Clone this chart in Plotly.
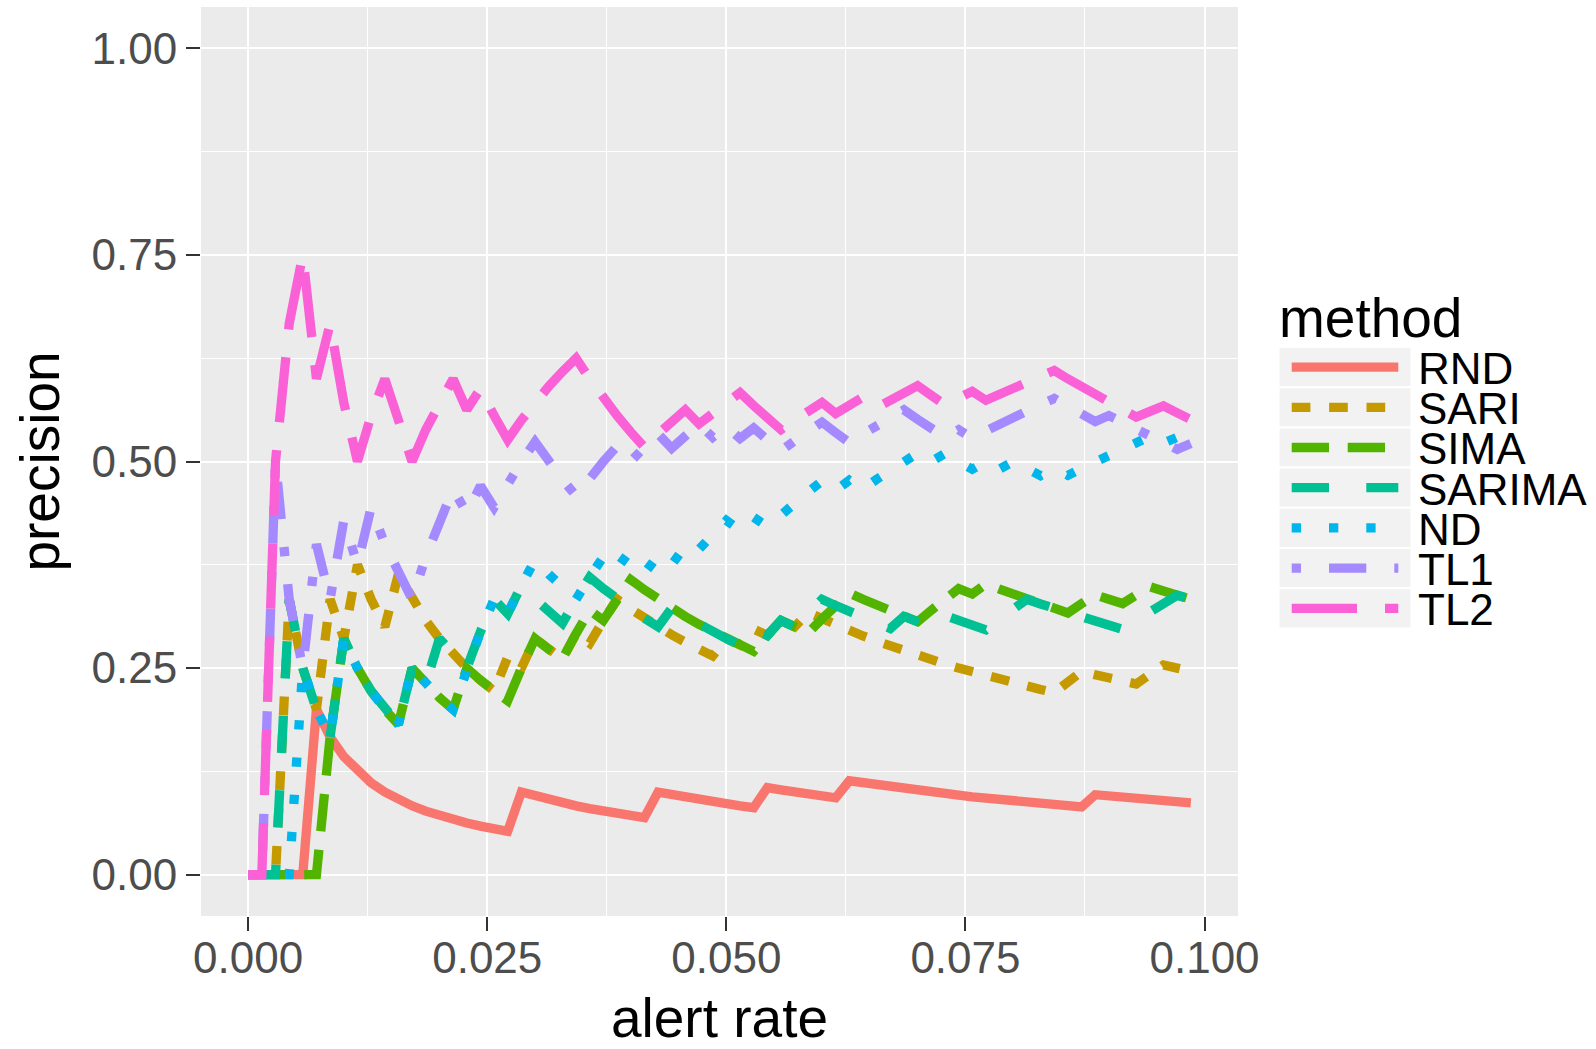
import plotly.graph_objects as go

# ---------------- data ----------------
alert_rate = [0, 0.00143, 0.00286, 0.00429, 0.00571, 0.00714, 0.00857, 0.01, 0.01143, 0.01286,
              0.01429, 0.01571, 0.01714, 0.01857, 0.02, 0.02143, 0.02286, 0.02429, 0.02571, 0.02714,
              0.02857, 0.03, 0.03143, 0.03286, 0.03429, 0.03571, 0.03714, 0.03857, 0.04, 0.04143,
              0.04286, 0.04429, 0.04571, 0.04714, 0.04857, 0.05, 0.05143, 0.05286, 0.05429, 0.05571,
              0.05714, 0.05857, 0.06, 0.06143, 0.06286, 0.06429, 0.06571, 0.06714, 0.06857, 0.07,
              0.07143, 0.07286, 0.07429, 0.07571, 0.07714, 0.07857, 0.08, 0.08143, 0.08286, 0.08429,
              0.08571, 0.08714, 0.08857, 0.09, 0.09143, 0.09286, 0.09429, 0.09571, 0.09714, 0.09857]

rnd = [0, 0, 0, 0, 0, 0.2, 0.1667, 0.1429, 0.125, 0.1111, 0.1, 0.0909, 0.0833, 0.0769, 0.0714,
       0.0667, 0.0625, 0.0588, 0.0556, 0.0526, 0.1, 0.0952, 0.0909, 0.087, 0.0833, 0.08, 0.0769,
       0.0741, 0.0714, 0.069, 0.1, 0.0968, 0.0938, 0.0909, 0.0882, 0.0857, 0.0833, 0.0811, 0.1053,
       0.1026, 0.1, 0.0976, 0.0952, 0.093, 0.1136, 0.1111, 0.1087, 0.1064, 0.1042, 0.102, 0.1,
       0.098, 0.0962, 0.0943, 0.0926, 0.0909, 0.0893, 0.0877, 0.0862, 0.0847, 0.0833, 0.082,
       0.0968, 0.0952, 0.0938, 0.0923, 0.0909, 0.0896, 0.0882, 0.087]

sari = [0, 0, 0, 0.3333, 0.25, 0.2, 0.3333, 0.2857, 0.375, 0.3333, 0.3, 0.3636, 0.3333, 0.3077,
        0.2857, 0.2667, 0.25, 0.2353, 0.2222, 0.2632, 0.25, 0.2857, 0.2727, 0.2609, 0.2917, 0.28,
        0.3077, 0.3333, 0.3214, 0.3103, 0.3, 0.2903, 0.2813, 0.2727, 0.2647, 0.2857, 0.2778, 0.2973,
        0.2895, 0.3077, 0.3, 0.3171, 0.3095, 0.3023, 0.2955, 0.2889, 0.2826, 0.2766, 0.2708, 0.2653,
        0.26, 0.2549, 0.25, 0.2453, 0.2407, 0.2364, 0.2321, 0.2281, 0.2241, 0.2203, 0.2333, 0.2459,
        0.2419, 0.2381, 0.2344, 0.2308, 0.2424, 0.2537, 0.25, 0.2464]

sima = [0, 0, 0, 0, 0, 0, 0.1667, 0.2857, 0.25, 0.2222, 0.2, 0.1818, 0.25, 0.2308, 0.2143, 0.2,
        0.25, 0.2353, 0.2222, 0.2105, 0.25, 0.2857, 0.2727, 0.2609, 0.2917, 0.32, 0.3077, 0.3333,
        0.3571, 0.3448, 0.3333, 0.3226, 0.3125, 0.303, 0.2941, 0.2857, 0.2778, 0.2703, 0.2895,
        0.3077, 0.3, 0.2927, 0.3095, 0.3256, 0.3409, 0.3333, 0.3261, 0.3191, 0.3125, 0.3061, 0.32,
        0.3333, 0.3462, 0.3396, 0.3519, 0.3455, 0.3393, 0.3333, 0.3276, 0.322, 0.3167, 0.3279,
        0.3387, 0.3333, 0.3281, 0.3385, 0.3485, 0.3433, 0.3382, 0.3333]

sarima = [0, 0, 0, 0.3333, 0.25, 0.2, 0.1667, 0.2857, 0.25, 0.2222, 0.2, 0.1818, 0.25, 0.2308,
          0.2857, 0.2667, 0.25, 0.2941, 0.3333, 0.3158, 0.35, 0.3333, 0.3182, 0.3043, 0.3333, 0.36,
          0.3462, 0.3333, 0.3214, 0.3103, 0.3, 0.3226, 0.3125, 0.303, 0.2941, 0.2857, 0.2778, 0.2973,
          0.2895, 0.3077, 0.3, 0.3171, 0.3333, 0.3256, 0.3182, 0.3111, 0.3043, 0.2979, 0.3125,
          0.3061, 0.3, 0.3137, 0.3077, 0.3019, 0.2963, 0.3091, 0.3214, 0.3333, 0.3276, 0.322,
          0.3167, 0.3115, 0.3065, 0.3016, 0.2969, 0.3077, 0.3182, 0.3284, 0.3382, 0.3333]

nd = [0, 0, 0, 0, 0.25, 0.2, 0.1667, 0.2857, 0.25, 0.2222, 0.2, 0.1818, 0.25, 0.2308, 0.2143,
      0.2, 0.25, 0.2941, 0.3333, 0.3158, 0.35, 0.381, 0.3636, 0.3478, 0.3333, 0.36, 0.3846,
      0.3704, 0.3929, 0.3793, 0.3667, 0.3871, 0.375, 0.3939, 0.4118, 0.4286, 0.4167, 0.4324,
      0.4211, 0.4359, 0.45, 0.4634, 0.4762, 0.4651, 0.4773, 0.4667, 0.4783, 0.4894, 0.5, 0.5102,
      0.5, 0.5098, 0.5, 0.4906, 0.5, 0.4909, 0.5, 0.4912, 0.4828, 0.4915, 0.4833, 0.4918, 0.5,
      0.5079, 0.5156, 0.5231, 0.5303, 0.5224, 0.5294, 0.5362]

tl1 = [0, 0, 0.5, 0.3333, 0.25, 0.4, 0.3333, 0.4286, 0.375, 0.4444, 0.4, 0.3636, 0.3333, 0.3846,
       0.4286, 0.4667, 0.4375, 0.4706, 0.4444, 0.4737, 0.5, 0.5238, 0.5, 0.4783, 0.4583, 0.48,
       0.5, 0.5185, 0.5, 0.5172, 0.5333, 0.5161, 0.5313, 0.5455, 0.5294, 0.5429, 0.5278, 0.5405,
       0.5263, 0.5128, 0.525, 0.5366, 0.5476, 0.5349, 0.5227, 0.5333, 0.5435, 0.5532, 0.5625,
       0.551, 0.54, 0.5294, 0.5385, 0.5283, 0.537, 0.5455, 0.5536, 0.5614, 0.569, 0.5763, 0.5667,
       0.5574, 0.5484, 0.5556, 0.5469, 0.5385, 0.5303, 0.5224, 0.5147, 0.5217]

tl2 = [0, 0, 0.5, 0.6667, 0.75, 0.6, 0.6667, 0.5714, 0.5, 0.5556, 0.6, 0.5455, 0.5, 0.5385,
       0.5714, 0.6, 0.5625, 0.5882, 0.5556, 0.5263, 0.55, 0.5714, 0.5909, 0.6087, 0.625, 0.6,
       0.5769, 0.5556, 0.5357, 0.5172, 0.5333, 0.5484, 0.5625, 0.5455, 0.5588, 0.5714, 0.5833,
       0.5676, 0.5526, 0.5385, 0.55, 0.561, 0.5714, 0.5581, 0.5682, 0.5778, 0.5652, 0.5745,
       0.5833, 0.5918, 0.58, 0.5686, 0.5769, 0.5849, 0.5741, 0.5818, 0.5893, 0.5965, 0.6034,
       0.6102, 0.6, 0.5902, 0.5806, 0.5714, 0.5625, 0.5538, 0.5606, 0.5672, 0.5588, 0.5507]

methods = ["RND", "SARI", "SIMA", "SARIMA", "ND", "TL1", "TL2"]
values = [rnd, sari, sima, sarima, nd, tl1, tl2]

x_ticks = [0, 0.025, 0.05, 0.075, 0.1]
y_ticks = [0, 0.25, 0.5, 0.75, 1.0]

# ---------------- styling ----------------
colors = ["#F8766D", "#C49A00", "#53B400", "#00C094", "#00B6EB", "#A58AFF", "#FB61D7"]
u = 9.33  # ggplot dash unit (= line width)
def dash(*parts):
    return ",".join(f"{p * u:.1f}px" for p in parts)
dashes = ["solid", dash(2, 2), dash(4, 2), dash(4, 4), dash(1, 3), dash(1, 3, 4, 3), dash(7, 3)]
LW = 9.3

FONT = "Arial, Liberation Sans, Helvetica, sans-serif"
W, H = 1596, 1049
L, R, T, B = 201, 358, 7, 133
PW, PH = W - L - R, H - T - B

def px_x(p):
    return (p - L) / PW

def px_y(p):
    return (H - B - p) / PH

fig = go.Figure()
for name, vals, col, d in zip(methods, values, colors, dashes):
    fig.add_trace(go.Scatter(
        x=alert_rate, y=vals, mode="lines", name=name, showlegend=False,
        line=dict(color=col, width=LW, dash=d),
        hovertemplate=name + "<br>alert rate=%{x:.4f}<br>precision=%{y:.3f}<extra></extra>",
    ))

# ---------------- legend (ggplot style) ----------------
shapes = []
annotations = []
key_x0, key_x1 = 1278.5, 1411.5
line_x0, line_x1 = 1291.7, 1398.3
row0, pitch = 347.0, 40.2
annotations.append(dict(
    text="method", xref="paper", yref="paper", x=px_x(1276.5), y=px_y(317.5),
    xanchor="left", yanchor="middle", showarrow=False,
    font=dict(family=FONT, size=55, color="#000000")))
for i, (name, col, d) in enumerate(zip(methods, colors, dashes)):
    top = row0 + i * pitch
    cy = top + pitch / 2
    shapes.append(dict(type="rect", xref="paper", yref="paper",
                       x0=px_x(key_x0), x1=px_x(key_x1), y0=px_y(top), y1=px_y(top + pitch),
                       fillcolor="#F2F2F2", line=dict(color="#FFFFFF", width=2), layer="below"))
    shapes.append(dict(type="line", xref="paper", yref="paper",
                       x0=px_x(line_x0), x1=px_x(line_x1), y0=px_y(cy), y1=px_y(cy),
                       line=dict(color=col, width=LW, dash=d)))
    annotations.append(dict(
        text=name, xref="paper", yref="paper", x=px_x(1416), y=px_y(cy + 1.5),
        xanchor="left", yanchor="middle", showarrow=False,
        font=dict(family=FONT, size=44, color="#000000")))

axis_common = dict(
    showline=False, zeroline=False, showgrid=True, gridcolor="#FFFFFF", gridwidth=2.2,
    ticks="outside", ticklen=14, tickwidth=2, tickcolor="#333333",
    tickfont=dict(family=FONT, size=44, color="#4D4D4D"),
    automargin=False,
)

fig.update_layout(
    width=W, height=H, autosize=False,
    margin=dict(l=L, r=R, t=T, b=B, pad=0),
    paper_bgcolor="#FFFFFF", plot_bgcolor="#EBEBEB",
    font=dict(family=FONT, color="#000000"),
    xaxis=dict(
        range=[-0.00493, 0.1035], tickvals=x_ticks, tickformat=".3f",
        minor=dict(dtick=0.0125, tick0=0, showgrid=True, gridcolor="#FFFFFF", gridwidth=1.1, ticks=""),
        title=dict(text="alert rate", font=dict(family=FONT, size=55, color="#000000"), standoff=35),
        ticklabelstandoff=-11,
        **axis_common),
    yaxis=dict(
        range=[-0.05, 1.05], tickvals=y_ticks, tickformat=".2f",
        minor=dict(dtick=0.125, tick0=0, showgrid=True, gridcolor="#FFFFFF", gridwidth=1.1, ticks=""),
        title=dict(text="precision", font=dict(family=FONT, size=55, color="#000000"), standoff=14),
        ticklabelstandoff=0,
        **axis_common),
    shapes=shapes,
    annotations=annotations,
    showlegend=False,
)

fig.write_html("out.html", include_plotlyjs=True, config={"displayModeBar": False},
               post_script="document.body.style.margin='0';document.body.style.overflow='hidden';")
